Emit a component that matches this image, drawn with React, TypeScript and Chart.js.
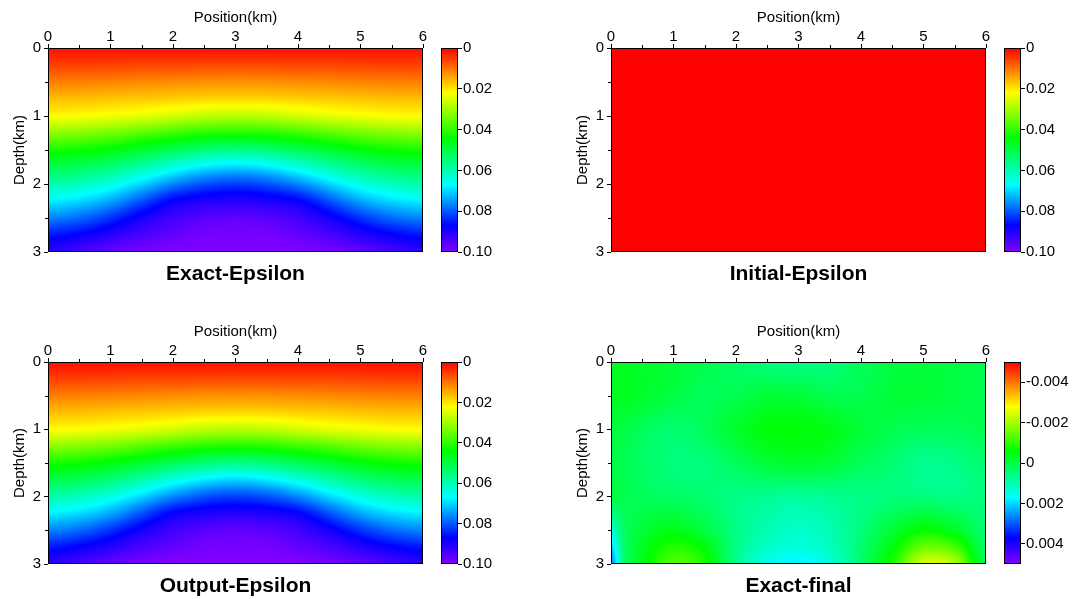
import React, { useEffect, useRef } from "react";
import { Chart, registerables } from "chart.js";

Chart.register(...registerables);

const FONT = "Arial, 'Liberation Sans', Helvetica, sans-serif";

// ---- axis ticks / labels ----
const positionTicks = [0, 1, 2, 3, 4, 5, 6];
const positionMinorTicks = [0.5, 1.5, 2.5, 3.5, 4.5, 5.5];
const depthTicks = [0, 1, 2, 3];
const depthMinorTicks = [0.5, 1.5, 2.5];

const epsilonBarTicks = [0, 0.02, 0.04, 0.06, 0.08, 0.1];
const epsilonBarLabels = ["0", "0.02", "0.04", "0.06", "0.08", "0.10"];
const diffBarTicks = [-0.004, -0.002, 0, 0.002, 0.004];
const diffBarLabels = ["-0.004", "-0.002", "0", "0.002", "0.004"];

const panelTitles = ["Exact-Epsilon", "Initial-Epsilon", "Output-Epsilon", "Exact-final"];

// ---- colormap stops: [t, r, g, b] ----
const rainbowStops = [
  [0, 255, 0, 0],
  [0.22, 255, 255, 0],
  [0.44, 0, 255, 0],
  [0.67, 0, 255, 255],
  [0.87, 0, 0, 255],
  [1, 128, 0, 255],
];

// ---- epsilon grids (rows = depth km, cols = position km) ----
const epsPositions = [0, 0.5, 1, 1.5, 2, 2.5, 3, 3.5, 4, 4.5, 5, 5.5, 6];
const epsDepths = [0, 0.25, 0.5, 0.75, 1, 1.25, 1.5, 1.75, 2, 2.25, 2.5, 2.75, 3];

const exactEpsilon = [
  [0.0015, 0.0015, 0.0015, 0.0015, 0.0015, 0.0015, 0.0015, 0.0015, 0.0015, 0.0015, 0.0015, 0.0015, 0.0015],
  [0.0055, 0.0055, 0.0057, 0.0059, 0.006, 0.0062, 0.0063, 0.0062, 0.006, 0.0059, 0.0057, 0.0055, 0.0055],
  [0.011, 0.0111, 0.0114, 0.0118, 0.0121, 0.0124, 0.0125, 0.0124, 0.0121, 0.0118, 0.0114, 0.0111, 0.011],
  [0.0165, 0.0166, 0.0171, 0.0176, 0.0181, 0.0186, 0.0188, 0.0186, 0.0181, 0.0176, 0.0171, 0.0166, 0.0165],
  [0.022, 0.0224, 0.0233, 0.0244, 0.0261, 0.0278, 0.0283, 0.0278, 0.0261, 0.0244, 0.0233, 0.0224, 0.022],
  [0.032, 0.0328, 0.0343, 0.0367, 0.0389, 0.0409, 0.0414, 0.0409, 0.0389, 0.0367, 0.0343, 0.0328, 0.032],
  [0.042, 0.0432, 0.0452, 0.0484, 0.0517, 0.0547, 0.0561, 0.0547, 0.0517, 0.0484, 0.0452, 0.0432, 0.042],
  [0.0509, 0.0521, 0.0549, 0.0595, 0.0644, 0.0685, 0.0703, 0.0685, 0.0644, 0.0595, 0.0549, 0.0521, 0.0509],
  [0.0594, 0.061, 0.0647, 0.0703, 0.0765, 0.0807, 0.0822, 0.0807, 0.0765, 0.0703, 0.0647, 0.061, 0.0594],
  [0.068, 0.0699, 0.074, 0.0808, 0.0875, 0.0898, 0.0907, 0.0898, 0.0875, 0.0808, 0.074, 0.0699, 0.068],
  [0.0767, 0.0788, 0.0833, 0.089, 0.0934, 0.0957, 0.0968, 0.0957, 0.0934, 0.089, 0.0833, 0.0788, 0.0767],
  [0.0853, 0.0875, 0.0908, 0.0945, 0.097, 0.0988, 0.0989, 0.0988, 0.097, 0.0945, 0.0908, 0.0875, 0.0853],
  [0.091, 0.094, 0.097, 0.099, 0.1, 0.1, 0.1, 0.1, 0.1, 0.099, 0.097, 0.094, 0.091],
];

// output looks identical to the exact model at this resolution
const outputEpsilon = exactEpsilon;

const initialPositions = [0, 6];
const initialDepths = [0, 3];
const initialEpsilon = [
  [0, 0],
  [0, 0],
];

// ---- exact - final difference ----
const diffPositions = [0, 0.2, 0.5, 1, 1.5, 2, 2.5, 3, 3.5, 4, 4.5, 5, 5.5, 6];
const diffDepths = [0, 0.5, 1, 1.5, 2, 2.5, 2.75, 3];
const exactFinal = [
  [-0.0003, -0.0003, -0.0002, -0.0001, 0.0001, 0.0003, 0.0005, 0.0006, 0.0005, 0.0002, 0.0, -0.0001, 0.0, 0.0001],
  [-0.0003, -0.0003, -0.0002, 0.0, 0.0002, 0.0001, -0.0001, -0.0001, 0.0001, 0.0001, -0.0001, -0.0001, 0.0, 0.0001],
  [-0.0001, 0.0, 0.0002, 0.0004, 0.0002, -0.0002, -0.0005, -0.0005, -0.0004, -0.0001, 0.0001, 0.0002, 0.0002, 0.0001],
  [0.0, 0.0001, 0.0003, 0.0005, 0.0005, 0.0002, -0.0001, -0.0002, -0.0001, 0.0002, 0.0004, 0.0007, 0.0006, 0.0004],
  [0.0, 0.0001, 0.0002, 0.0003, 0.0004, 0.0006, 0.0007, 0.0008, 0.0007, 0.0006, 0.0005, 0.0005, 0.0006, 0.0005],
  [0.0013, 0.0003, -0.0001, -0.0004, 0.0, 0.0006, 0.001, 0.0012, 0.001, 0.0005, -0.0001, -0.0006, -0.0003, 0.0004],
  [0.0021, 0.0004, -0.0003, -0.0009, -0.0005, 0.0006, 0.0012, 0.0014, 0.0011, 0.0004, -0.0005, -0.0015, -0.0012, 0.0003],
  [0.0027, 0.0005, -0.0004, -0.0013, -0.0008, 0.0007, 0.0015, 0.0018, 0.0014, 0.0004, -0.0008, -0.0024, -0.0021, 0.0002],
];

type Panel = {
  title: string;
  xs: number[];
  zs: number[];
  values: number[][];
  vmin: number;
  vmax: number;
  barTicks: number[];
  barLabels: string[];
  ox: number;
  oy: number;
  areaB: number;
  barW: number;
};

const panels: Panel[] = [
  { title: panelTitles[0], xs: epsPositions, zs: epsDepths, values: exactEpsilon, vmin: 0, vmax: 0.1, barTicks: epsilonBarTicks, barLabels: epsilonBarLabels, ox: 0, oy: 0, areaB: 252, barW: 130 },
  { title: panelTitles[1], xs: initialPositions, zs: initialDepths, values: initialEpsilon, vmin: 0, vmax: 0.1, barTicks: epsilonBarTicks, barLabels: epsilonBarLabels, ox: 563, oy: 0, areaB: 252, barW: 83 },
  { title: panelTitles[2], xs: epsPositions, zs: epsDepths, values: outputEpsilon, vmin: 0, vmax: 0.1, barTicks: epsilonBarTicks, barLabels: epsilonBarLabels, ox: 0, oy: 314, areaB: 250, barW: 130 },
  { title: panelTitles[3], xs: diffPositions, zs: diffDepths, values: exactFinal, vmin: -0.005, vmax: 0.005, barTicks: diffBarTicks, barLabels: diffBarLabels, ox: 563, oy: 314, areaB: 250, barW: 83 },
];

const HEAT_W = 430;
const HEAT_H = 290;
const AREA_L = 48;
const AREA_T = 48;
const AREA_R = 423;
const BAR_L = 441;
const BAR_WIDTH = 17;

function colorFor(t: number): [number, number, number] {
  const c = Math.max(0, Math.min(1, t));
  for (let i = 0; i < rainbowStops.length - 1; i++) {
    const a = rainbowStops[i];
    const b = rainbowStops[i + 1];
    if (c <= b[0]) {
      const f = (c - a[0]) / (b[0] - a[0]);
      return [a[1] + (b[1] - a[1]) * f, a[2] + (b[2] - a[2]) * f, a[3] + (b[3] - a[3]) * f];
    }
  }
  const l = rainbowStops[rainbowStops.length - 1];
  return [l[1], l[2], l[3]];
}

function locate(arr: number[], v: number): number {
  if (v <= arr[0]) return 0;
  for (let i = 0; i < arr.length - 1; i++) {
    if (v <= arr[i + 1]) return i + (v - arr[i]) / (arr[i + 1] - arr[i]);
  }
  return arr.length - 1;
}

function cr(p0: number, p1: number, p2: number, p3: number, t: number): number {
  return p1 + 0.5 * t * (p2 - p0 + t * (2 * p0 - 5 * p1 + 4 * p2 - p3 + t * (3 * (p1 - p2) + p3 - p0)));
}

function sampleGrid(values: number[][], fr: number, fc: number): number {
  const nr = values.length;
  const nc = values[0].length;
  const r1 = Math.min(Math.floor(fr), nr - 1);
  const c1 = Math.min(Math.floor(fc), nc - 1);
  const tr = fr - r1;
  const tc = fc - c1;
  const cl = (i: number, n: number) => Math.max(0, Math.min(n - 1, i));
  const rowVals: number[] = [];
  for (let k = -1; k <= 2; k++) {
    const row = values[cl(r1 + k, nr)];
    rowVals.push(cr(row[cl(c1 - 1, nc)], row[cl(c1, nc)], row[cl(c1 + 1, nc)], row[cl(c1 + 2, nc)], tc));
  }
  return cr(rowVals[0], rowVals[1], rowVals[2], rowVals[3], tr);
}

function heatPlugin(panel: Panel) {
  return {
    id: "heat",
    beforeDatasetsDraw(chart: any) {
      const { ctx, chartArea } = chart;
      const xS = chart.scales.x;
      const yS = chart.scales.y;
      const l = Math.round(chartArea.left);
      const t = Math.round(chartArea.top);
      const w = Math.round(chartArea.right) - l;
      const h = Math.round(chartArea.bottom) - t;
      const off = document.createElement("canvas");
      off.width = w;
      off.height = h;
      const octx = off.getContext("2d")!;
      const img = octx.createImageData(w, h);
      const colIdx: number[] = [];
      for (let i = 0; i < w; i++) colIdx.push(locate(panel.xs, xS.getValueForPixel(l + i + 0.5)));
      for (let j = 0; j < h; j++) {
        const fr = locate(panel.zs, yS.getValueForPixel(t + j + 0.5));
        for (let i = 0; i < w; i++) {
          const v = sampleGrid(panel.values, fr, colIdx[i]);
          const [r, g, b] = colorFor((v - panel.vmin) / (panel.vmax - panel.vmin));
          const p = (j * w + i) * 4;
          img.data[p] = r;
          img.data[p + 1] = g;
          img.data[p + 2] = b;
          img.data[p + 3] = 255;
        }
      }
      octx.putImageData(img, 0, 0);
      ctx.save();
      ctx.drawImage(off, l, t);
      ctx.restore();
    },
    afterDraw(chart: any) {
      const { ctx, chartArea } = chart;
      const xS = chart.scales.x;
      const yS = chart.scales.y;
      ctx.save();
      ctx.strokeStyle = "#000";
      ctx.lineWidth = 1;
      ctx.strokeRect(Math.round(chartArea.left) + 0.5, Math.round(chartArea.top) + 0.5, Math.round(chartArea.right - chartArea.left) - 1, Math.round(chartArea.bottom - chartArea.top) - 1);
      ctx.beginPath();
      positionMinorTicks.forEach((v) => {
        const px = Math.round(xS.getPixelForValue(v)) + 0.5;
        ctx.moveTo(px, chartArea.top - 3);
        ctx.lineTo(px, chartArea.top);
      });
      depthMinorTicks.forEach((v) => {
        const py = Math.round(yS.getPixelForValue(v)) + 0.5;
        ctx.moveTo(chartArea.left - 3, py);
        ctx.lineTo(chartArea.left, py);
      });
      ctx.stroke();
      ctx.fillStyle = "#000";
      ctx.font = `bold 21px ${FONT}`;
      ctx.textAlign = "center";
      ctx.textBaseline = "alphabetic";
      ctx.fillText(panel.title, (chartArea.left + chartArea.right) / 2, chartArea.bottom + 28);
      ctx.restore();
    },
  };
}

const tickFont = { family: FONT, size: 15 };

function makeHeat(canvas: HTMLCanvasElement, panel: Panel) {
  return new Chart(canvas, {
    type: "scatter",
    data: { datasets: [] },
    options: {
      responsive: false,
      animation: false,
      events: [],
      layout: { padding: { left: 0, top: 0, right: HEAT_W - AREA_R, bottom: HEAT_H - panel.areaB } },
      plugins: { legend: { display: false }, tooltip: { enabled: false }, title: { display: false } },
      scales: {
        x: {
          type: "linear",
          position: "top",
          min: 0,
          max: 6,
          afterBuildTicks: (s: any) => {
            s.ticks = positionTicks.map((v) => ({ value: v }));
          },
          afterFit: (s: any) => {
            s.height = AREA_T;
          },
          ticks: { color: "#000", font: tickFont, padding: -2, maxRotation: 0, autoSkip: false },
          grid: { drawOnChartArea: false, drawTicks: true, tickLength: 4, color: "#000" },
          border: { display: false },
          title: { display: true, text: "Position(km)", color: "#000", font: tickFont, padding: { top: 9, bottom: 0 } },
        },
        y: {
          type: "linear",
          position: "left",
          reverse: true,
          min: 0,
          max: 3,
          afterBuildTicks: (s: any) => {
            s.ticks = depthTicks.map((v) => ({ value: v }));
          },
          afterFit: (s: any) => {
            s.width = AREA_L;
          },
          ticks: { color: "#000", font: tickFont, padding: 3, autoSkip: false },
          grid: { drawOnChartArea: false, drawTicks: true, tickLength: 4, color: "#000" },
          border: { display: false },
          title: { display: true, text: "Depth(km)", color: "#000", font: tickFont, padding: { top: 11, bottom: 0 } },
        },
      },
    } as any,
    plugins: [heatPlugin(panel)],
  });
}

function barPlugin(panel: Panel) {
  return {
    id: "bar",
    beforeDatasetsDraw(chart: any) {
      const { ctx, chartArea } = chart;
      const yS = chart.scales.y;
      const l = Math.round(chartArea.left);
      const w = Math.round(chartArea.right) - l;
      ctx.save();
      for (let py = Math.round(chartArea.top); py < Math.round(chartArea.bottom); py++) {
        const v = yS.getValueForPixel(py + 0.5);
        const [r, g, b] = colorFor((v - panel.vmin) / (panel.vmax - panel.vmin));
        ctx.fillStyle = `rgb(${Math.round(r)},${Math.round(g)},${Math.round(b)})`;
        ctx.fillRect(l, py, w, 1);
      }
      ctx.strokeStyle = "#000";
      ctx.lineWidth = 1;
      ctx.strokeRect(l + 0.5, Math.round(chartArea.top) + 0.5, w - 1, Math.round(chartArea.bottom - chartArea.top) - 1);
      ctx.restore();
    },
  };
}

function makeBar(canvas: HTMLCanvasElement, panel: Panel) {
  const padL = BAR_L - HEAT_W;
  return new Chart(canvas, {
    type: "scatter",
    data: { datasets: [] },
    options: {
      responsive: false,
      animation: false,
      events: [],
      layout: { padding: { left: padL, top: AREA_T, right: 0, bottom: HEAT_H - panel.areaB } },
      plugins: { legend: { display: false }, tooltip: { enabled: false }, title: { display: false } },
      scales: {
        x: { type: "linear", display: false, min: 0, max: 1 },
        y: {
          type: "linear",
          position: "right",
          reverse: true,
          min: panel.vmin,
          max: panel.vmax,
          afterBuildTicks: (s: any) => {
            s.ticks = panel.barTicks.map((v) => ({ value: v }));
          },
          afterFit: (s: any) => {
            s.width = panel.barW - padL - BAR_WIDTH;
          },
          ticks: {
            color: "#000",
            font: tickFont,
            padding: 1,
            autoSkip: false,
            callback: (_v: any, i: number) => panel.barLabels[i],
          },
          grid: { drawOnChartArea: false, drawTicks: true, tickLength: 4, color: "#000" },
          border: { display: false },
        },
      },
    } as any,
    plugins: [barPlugin(panel)],
  });
}

export default function App() {
  const heatRefs = useRef<(HTMLCanvasElement | null)[]>([]);
  const barRefs = useRef<(HTMLCanvasElement | null)[]>([]);

  useEffect(() => {
    const charts: Chart[] = [];
    panels.forEach((p, i) => {
      const hc = heatRefs.current[i];
      const bc = barRefs.current[i];
      if (hc) charts.push(makeHeat(hc, p));
      if (bc) charts.push(makeBar(bc, p));
    });
    return () => charts.forEach((c) => c.destroy());
  }, []);

  return (
    <div style={{ position: "absolute", left: 0, top: 0, width: 1076, height: 599, background: "#fff", overflow: "hidden" }}>
      {panels.map((p, i) => (
        <React.Fragment key={p.title}>
          <canvas
            ref={(el) => {
              heatRefs.current[i] = el;
            }}
            width={HEAT_W}
            height={HEAT_H}
            style={{ position: "absolute", left: p.ox, top: p.oy, width: HEAT_W, height: HEAT_H }}
          />
          <canvas
            ref={(el) => {
              barRefs.current[i] = el;
            }}
            width={p.barW}
            height={HEAT_H}
            style={{ position: "absolute", left: p.ox + HEAT_W, top: p.oy, width: p.barW, height: HEAT_H }}
          />
        </React.Fragment>
      ))}
    </div>
  );
}
